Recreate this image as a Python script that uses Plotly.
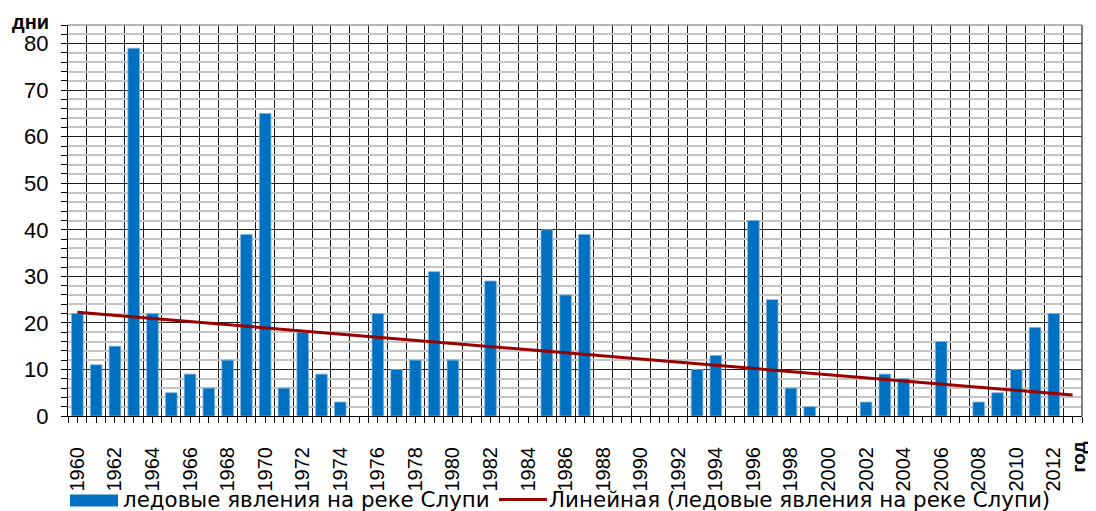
import plotly.graph_objects as go

years = list(range(1960, 2014))
ice_days = [22, 11, 15, 79, 22, 5, 9, 6, 12, 39,
            65, 6, 18, 9, 3, None, 22, 10, 12, 31,
            12, None, 29, None, None, 40, 26, 39, None, None,
            None, None, None, 10, 13, None, 42, 25, 6, 2,
            None, None, 3, 9, 8, None, 16, None, 3, 5,
            10, 19, 22, None]
trend_years = [1960, 2013]
trend_values = [22.3, 4.5]
tick_text = [str(y) if y % 2 == 0 else "" for y in years]

series_name = "ледовые явления на реке Слупи"
trend_name = "Линейная (ледовые явления на реке Слупи)"

BLUE = "#0070C0"
RED = "#990000"
FONT = "Liberation Sans, Arial, sans-serif"
LEG_FONT = "DejaVu Sans, Liberation Sans, sans-serif"

# page body has an 8px margin; compensate so the chart lands where the reference has it
OFF = 8
PAGE_W, PAGE_H = 1096, 511
W, H = PAGE_W - OFF, PAGE_H - OFF
# plot area in page pixels: x 68..1082, y 25..416.5
PL, PR, PT, PB = 68, 1082, 25, 416.5
L, R, T, B = PL - OFF, W - (PR - OFF), PT - OFF, H - (PB - OFF)
pw = PR - PL
ph = PB - PT


def px(x):
    return (x - PL) / pw


def py(y):
    return (PB - y) / ph


fig = go.Figure()
fig.add_trace(go.Bar(
    x=years, y=ice_days, name=series_name,
    marker=dict(color=BLUE, line=dict(color="#7fb2e0", width=0.8)),
    width=0.62, showlegend=False,
))
fig.add_trace(go.Scatter(
    x=trend_years, y=trend_values, mode="lines", name=trend_name,
    line=dict(color=RED, width=3), showlegend=False,
))

fig.update_layout(
    width=W, height=H,
    margin=dict(l=L, r=R, t=T, b=B, autoexpand=False),
    paper_bgcolor="white", plot_bgcolor="white",
    font=dict(family=FONT, color="black"),
    xaxis=dict(
        range=[1959.5, 2013.5], tickmode="array", tickvals=years, ticktext=tick_text,
        tickangle=-90, tickfont=dict(size=20, family=FONT, color="black"),
        ticks="outside", ticklen=6, tickcolor="black", tickwidth=1,
        showgrid=False, showline=True, linecolor="black", linewidth=1.2,
        ticklabelstandoff=16,
        minor=dict(tick0=1959.5, dtick=1, showgrid=True, gridcolor="#1a1a1a",
                   gridwidth=1.2, ticks="outside", ticklen=6, tickcolor="black"),
        zeroline=False,
    ),
    yaxis=dict(
        range=[0, 84], dtick=10, tick0=0,
        tickfont=dict(size=22, family=FONT, color="black"),
        ticks="outside", ticklen=6, tickcolor="black",
        showgrid=True, gridcolor="#1a1a1a", gridwidth=1.2,
        showline=True, linecolor="black", linewidth=1.2,
        ticklabelstandoff=8,
        minor=dict(dtick=2, showgrid=True, gridcolor="#c4c4c4", gridwidth=1.6,
                   ticks="outside", ticklen=6, tickcolor="black"),
        zeroline=False,
    ),
)

# top and right border of plot area
fig.add_shape(type="line", xref="paper", yref="paper", x0=0, x1=1, y0=1, y1=1,
              line=dict(color="#9a9a9a", width=1.5))
fig.add_shape(type="line", xref="paper", yref="paper", x0=1, x1=1, y0=0, y1=1,
              line=dict(color="#555555", width=1.5))

# axis titles
fig.add_annotation(text="<b>дни</b>", xref="paper", yref="paper", x=px(30), y=py(22),
                   xanchor="center", yanchor="middle", showarrow=False,
                   font=dict(size=20, family=FONT, color="black"))
fig.add_annotation(text="<b>год</b>", xref="paper", yref="paper", x=px(1078), y=py(458),
                   xanchor="center", yanchor="middle", textangle=-90, showarrow=False,
                   font=dict(size=19, family=FONT, color="black"))

# legend (manual)
ly = 500
fig.add_shape(type="rect", xref="paper", yref="paper",
              x0=px(70), x1=px(118), y0=py(507), y1=py(495),
              fillcolor=BLUE, line=dict(width=0))
fig.add_annotation(text=series_name, xref="paper", yref="paper",
                   x=px(121), y=py(ly), xanchor="left", yanchor="middle", showarrow=False,
                   font=dict(size=21.4, family=LEG_FONT, color="black"))
fig.add_shape(type="line", xref="paper", yref="paper",
              x0=px(499), x1=px(547), y0=py(ly), y1=py(ly),
              line=dict(color=RED, width=3))
fig.add_annotation(text=trend_name, xref="paper", yref="paper",
                   x=px(547), y=py(ly), xanchor="left", yanchor="middle", showarrow=False,
                   font=dict(size=21.4, family=LEG_FONT, color="black"))

fig.write_html("out.html")
